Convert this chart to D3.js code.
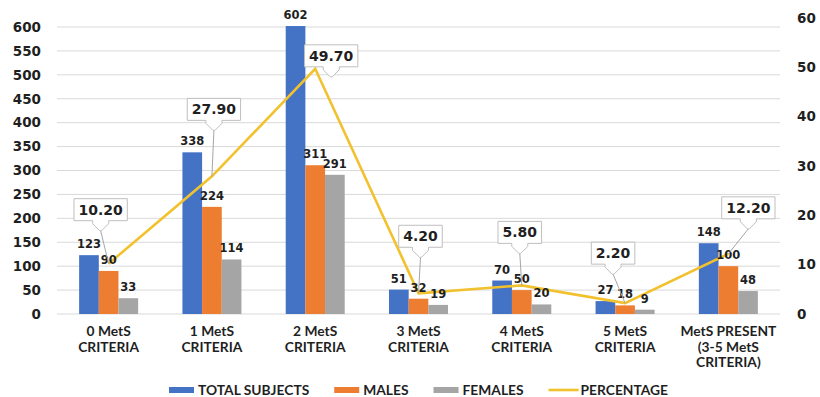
<!DOCTYPE html>
<html>
<head>
<meta charset="utf-8">
<script src="https://cdn.jsdelivr.net/npm/d3@7/dist/d3.min.js"></script>
<style>
  html, body { margin: 0; padding: 0; background: #ffffff; }
  svg { display: block; }
</style>
</head>
<body>
<svg id="chart" width="820" height="397"></svg>
<script>
// ---- data ----
const categories = [
  ["0 MetS", "CRITERIA"],
  ["1 MetS", "CRITERIA"],
  ["2 MetS", "CRITERIA"],
  ["3 MetS", "CRITERIA"],
  ["4 MetS", "CRITERIA"],
  ["5 MetS", "CRITERIA"],
  ["MetS PRESENT", "(3-5 MetS", "CRITERIA)"]
];
const totalSubjects = [123, 338, 602, 51, 70, 27, 148];
const males         = [90, 224, 311, 32, 50, 18, 100];
const females       = [33, 114, 291, 19, 20, 9, 48];
const percentage    = [10.20, 27.90, 49.70, 4.20, 5.80, 2.20, 12.20];
const leftTicks  = [0, 50, 100, 150, 200, 250, 300, 350, 400, 450, 500, 550, 600];
const rightTicks = [0, 10, 20, 30, 40, 50, 60];
const seriesNames = ["TOTAL SUBJECTS", "MALES", "FEMALES", "PERCENTAGE"];

// callout placement relative to each percentage point (layout only)
const calloutOffset = [[-8, -54], [2, -67], [16, -13], [2, -57], [-2, -53], [-12, -50], [20, -46]];

// ---- layout ----
const colors = { total: "#4472C4", males: "#ED7D31", females: "#A5A5A5", pct: "#F2C12E" };
const plot = { left: 57, right: 780, top: 27, bottom: 314 };
const svg = d3.select("#chart");
const tickFont = "'DejaVu Sans', Verdana, sans-serif";
const catFont = "Lato, 'Open Sans', sans-serif";
const ink = "#1f1f1f";

const x = d3.scaleBand().domain(d3.range(categories.length)).range([plot.left, plot.right]).padding(0);
const groupW = 59;
const xInner = d3.scaleBand().domain([0, 1, 2]).range([0, groupW]).padding(0);
const yL = d3.scaleLinear().domain([0, 600]).range([plot.bottom, plot.top]);
const yR = d3.scaleLinear().domain([0, 60]).range([plot.bottom, 18]);

// gridlines
svg.append("g").selectAll("line").data(leftTicks).join("line")
  .attr("x1", plot.left).attr("x2", plot.right)
  .attr("y1", d => yL(d)).attr("y2", d => yL(d))
  .attr("stroke", "#d9d9d9").attr("stroke-width", 1);

// left axis
const axisL = d3.axisLeft(yL).tickValues(leftTicks).tickSize(0).tickPadding(0);
const gL = svg.append("g").attr("transform", `translate(41,0)`).call(axisL);
gL.select(".domain").remove();
gL.selectAll("text").attr("font-family", tickFont).attr("font-weight", "bold")
  .attr("font-size", 13.5).attr("fill", ink).attr("text-anchor", "end");

// right axis
const axisR = d3.axisRight(yR).tickValues(rightTicks).tickSize(0).tickPadding(0);
const gR = svg.append("g").attr("transform", `translate(797,0)`).call(axisR);
gR.select(".domain").remove();
gR.selectAll("text").attr("font-family", tickFont).attr("font-weight", "bold")
  .attr("font-size", 13.5).attr("fill", ink).attr("text-anchor", "start");

// bars
const series = [
  { values: totalSubjects, color: colors.total },
  { values: males, color: colors.males },
  { values: females, color: colors.females }
];
const groupX = i => x(i) + (x.bandwidth() - groupW) / 2;
const barG = svg.append("g");
series.forEach((s, si) => {
  barG.append("g").selectAll("rect").data(s.values).join("rect")
    .attr("x", (d, i) => groupX(i) + xInner(si))
    .attr("width", xInner.bandwidth())
    .attr("y", d => yL(d))
    .attr("height", d => yL(0) - yL(d))
    .attr("fill", s.color);
});

// percentage line
const cx = i => x(i) + x.bandwidth() / 2;
const line = d3.line().x((d, i) => cx(i)).y(d => yR(d));
svg.append("path").datum(percentage)
  .attr("d", line).attr("fill", "none")
  .attr("stroke", colors.pct).attr("stroke-width", 2.6).attr("stroke-linejoin", "miter");

// bar value labels
const lblG = svg.append("g");
series.forEach((s, si) => {
  lblG.append("g").selectAll("text").data(s.values).join("text")
    .attr("x", (d, i) => groupX(i) + xInner(si) + xInner.bandwidth() / 2)
    .attr("y", d => yL(d) - 7)
    .attr("text-anchor", "middle")
    .attr("font-family", tickFont).attr("font-weight", "bold").attr("font-size", 11.5)
    .attr("fill", ink)
    .text(d => d);
});

// percentage callouts
const calloutG = svg.append("g");
percentage.forEach((v, i) => {
  const px = cx(i), py = yR(v);
  const bx = px + calloutOffset[i][0], by = py + calloutOffset[i][1];
  const g = calloutG.append("g");
  const t = g.append("text")
    .attr("x", bx).attr("y", by + 5)
    .attr("text-anchor", "middle")
    .attr("font-family", tickFont).attr("font-weight", "bold").attr("font-size", 14)
    .attr("fill", ink)
    .text(v.toFixed(2));
  const tw = t.node().getComputedTextLength();
  const w = tw + 9, h = 22;
  const l = bx - w / 2, r = bx + w / 2, top = by - h / 2, bot = by + h / 2;
  const tip = bot + 10;
  const path = [
    [l, top], [r, top], [r, bot], [bx + 8, bot], [bx + 8, bot + 3], [bx + 1, tip],
    [bx - 1, tip], [bx - 8, bot + 3], [bx - 8, bot], [l, bot]
  ];
  if (py > tip + 2) {
    g.insert("line", "text")
      .attr("x1", bx).attr("y1", tip).attr("x2", px).attr("y2", py)
      .attr("stroke", "#a6a6a6").attr("stroke-width", 1);
  }
  g.insert("path", "text")
    .attr("d", d3.line()(path) + "Z")
    .attr("fill", "#ffffff").attr("stroke", "#bfbfbf").attr("stroke-width", 1);
});

// category labels
const catG = svg.append("g");
categories.forEach((lines, i) => {
  const t = catG.append("text")
    .attr("x", cx(i)).attr("y", 336)
    .attr("text-anchor", "middle")
    .attr("font-family", catFont).attr("font-weight", "bold").attr("font-size", 13.8)
    .attr("fill", ink);
  lines.forEach((ln, k) => {
    t.append("tspan").attr("x", cx(i)).attr("dy", k === 0 ? 0 : 15.5).text(ln);
  });
});

// legend
const legG = svg.append("g");
const legY = 390;
let lx = 0;
seriesNames.forEach((name, k) => {
  const g = legG.append("g").attr("transform", `translate(${lx},0)`);
  if (k < 3) {
    g.append("rect").attr("x", 0).attr("y", legY - 3).attr("width", 25).attr("height", 6)
      .attr("fill", [colors.total, colors.males, colors.females][k]);
  } else {
    g.append("line").attr("x1", 0).attr("x2", 30).attr("y1", legY).attr("y2", legY)
      .attr("stroke", colors.pct).attr("stroke-width", 2.6);
  }
  const sw = k < 3 ? 29 : 32;
  const t = g.append("text").attr("x", sw).attr("y", legY + 5)
    .attr("font-family", catFont).attr("font-weight", "bold").attr("font-size", 13.8)
    .attr("fill", ink).text(name);
  lx += sw + t.node().getComputedTextLength() + 25;
});
const legW = lx - 25;
legG.attr("transform", `translate(${(plot.left + plot.right) / 2 - legW / 2},0)`);
</script>
</body>
</html>
